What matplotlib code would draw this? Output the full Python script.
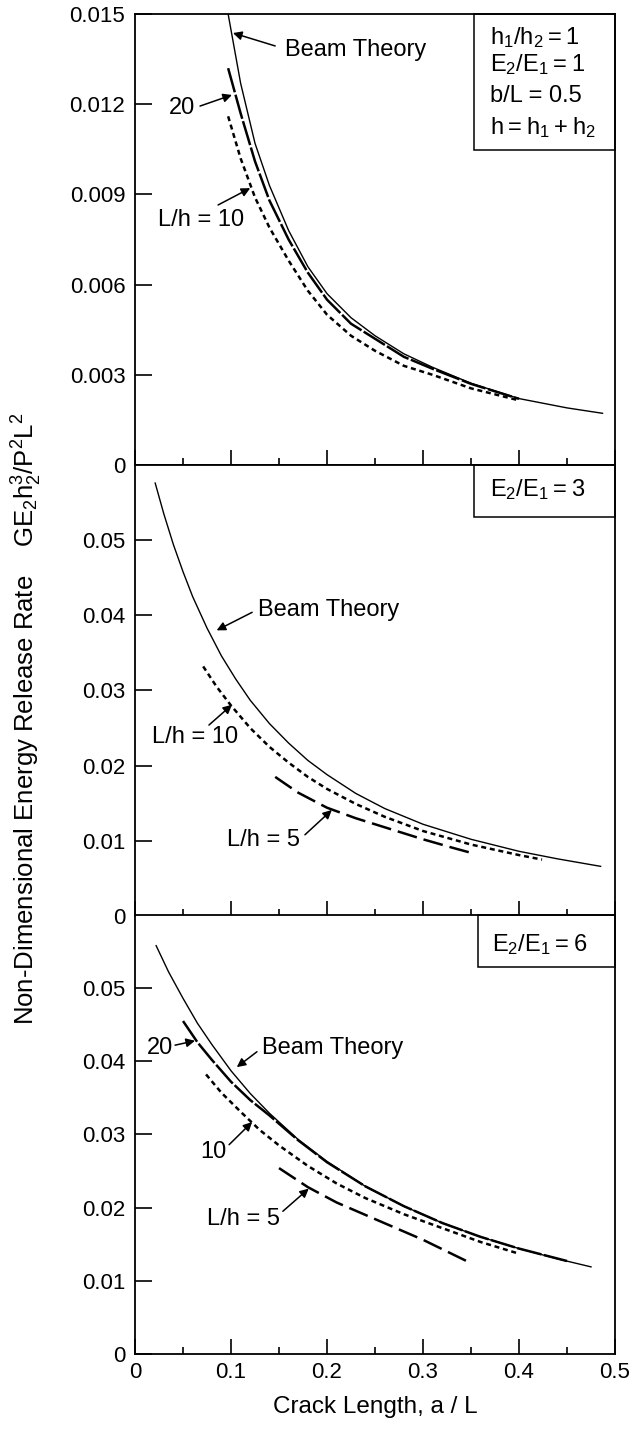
import numpy as np
import matplotlib.pyplot as plt

plt.rcParams['font.family'] = ['Liberation Sans', 'DejaVu Sans']
plt.rcParams['mathtext.fontset'] = 'custom'
plt.rcParams['mathtext.rm'] = 'Liberation Sans'

# =========== E2/E1 = 1 ===========
a_beam_1 = [0.097, 0.11, 0.125, 0.14, 0.16, 0.18, 0.20, 0.225, 0.25, 0.28, 0.31, 0.35, 0.40, 0.45, 0.487]
g_beam_1 = [0.0150, 0.0127, 0.0107, 0.0093, 0.0078, 0.0066, 0.0057, 0.0049, 0.0043, 0.0037, 0.00325, 0.00272, 0.00221, 0.00190, 0.00172]
a_20_1 = [0.097, 0.11, 0.125, 0.14, 0.16, 0.18, 0.20, 0.225, 0.25, 0.28, 0.31, 0.35, 0.40]
g_20_1 = [0.0132, 0.0117, 0.0101, 0.0088, 0.0075, 0.0064, 0.0055, 0.0047, 0.0042, 0.0036, 0.0032, 0.0027, 0.0022]
a_10_1 = [0.097, 0.11, 0.125, 0.14, 0.16, 0.18, 0.20, 0.225, 0.25, 0.28, 0.31, 0.35, 0.40]
g_10_1 = [0.0116, 0.0102, 0.0089, 0.0079, 0.0068, 0.0058, 0.0050, 0.0043, 0.0038, 0.0033, 0.0030, 0.00255, 0.00215]

# =========== E2/E1 = 3 ===========
a_beam_3 = [0.021, 0.03, 0.04, 0.05, 0.06, 0.075, 0.09, 0.105, 0.12, 0.14, 0.16, 0.18, 0.20, 0.23, 0.26, 0.30, 0.35, 0.40, 0.44, 0.485]
g_beam_3 = [0.0576, 0.0535, 0.0494, 0.0458, 0.0425, 0.0383, 0.0346, 0.0315, 0.0287, 0.0256, 0.0230, 0.0207, 0.0188, 0.0163, 0.0143, 0.0122, 0.0102, 0.0086, 0.0076, 0.0066]
a_10_3 = [0.071, 0.085, 0.10, 0.12, 0.14, 0.16, 0.18, 0.20, 0.23, 0.26, 0.30, 0.35, 0.40, 0.424]
g_10_3 = [0.0332, 0.0305, 0.0280, 0.0250, 0.0225, 0.0204, 0.0185, 0.0169, 0.0149, 0.0132, 0.0113, 0.0095, 0.0081, 0.0075]
a_5_3 = [0.146, 0.17, 0.20, 0.23, 0.26, 0.30, 0.33, 0.35]
g_5_3 = [0.0185, 0.0164, 0.0144, 0.0130, 0.0118, 0.0102, 0.0091, 0.0084]

# =========== E2/E1 = 6 ===========
a_beam_6 = [0.022, 0.035, 0.05, 0.065, 0.08, 0.10, 0.12, 0.14, 0.17, 0.20, 0.24, 0.28, 0.32, 0.36, 0.40, 0.44, 0.475]
g_beam_6 = [0.0558, 0.0522, 0.0486, 0.0452, 0.0423, 0.0387, 0.0356, 0.0329, 0.0293, 0.0263, 0.0229, 0.0202, 0.0179, 0.0160, 0.0144, 0.0130, 0.0119]
a_20_6 = [0.05, 0.065, 0.08, 0.10, 0.12, 0.14, 0.17, 0.20, 0.24, 0.28, 0.32, 0.36, 0.40, 0.45]
g_20_6 = [0.0455, 0.0426, 0.0402, 0.0372, 0.0347, 0.0326, 0.0292, 0.0262, 0.0229, 0.0202, 0.0179, 0.0160, 0.0144, 0.0127]
a_10_6 = [0.074, 0.09, 0.11, 0.13, 0.15, 0.18, 0.21, 0.24, 0.28, 0.32, 0.36, 0.40]
g_10_6 = [0.0382, 0.0357, 0.0331, 0.0306, 0.0285, 0.0257, 0.0233, 0.0213, 0.0191, 0.0172, 0.0153, 0.0137]
a_5_6 = [0.15, 0.18, 0.21, 0.24, 0.27, 0.30, 0.35]
g_5_6 = [0.0254, 0.0228, 0.0207, 0.0190, 0.0173, 0.0156, 0.0124]

x_ticks = [0, 0.1, 0.2, 0.3, 0.4, 0.5]
x_tick_labels = ['0', '0.1', '0.2', '0.3', '0.4', '0.5']
y_ticks_1 = [0, 0.003, 0.006, 0.009, 0.012, 0.015]
y_tick_labels_1 = ['0', '0.003', '0.006', '0.009', '0.012', '0.015']
y_ticks_36 = [0, 0.01, 0.02, 0.03, 0.04, 0.05]
y_tick_labels_36 = ['0', '0.01', '0.02', '0.03', '0.04', '0.05']

fs_tick = 16
fs_text = 17
fs_label = 17.5

beam_style = dict(color='k', lw=1.0, ls='-')
s20_style = dict(color='k', lw=1.8, dashes=(10, 1.0))
s10_style = dict(color='k', lw=1.8, dashes=(2.0, 1.5))
s5_style = dict(color='k', lw=1.8, dashes=(8, 2.8))


def arrow(ax, tail, head):
	ax.annotate('', xy=head, xytext=tail,
				arrowprops=dict(arrowstyle='-|>', color='k', lw=1.1,
								shrinkA=0, shrinkB=0, mutation_scale=13))


def setup(ax, ymax, yticks, ylabels, box_h, box_x0):
	ax.set_xlim(0, 0.5)
	ax.set_ylim(0, ymax)
	ax.set_xticks(x_ticks)
	ax.set_xticks(np.arange(0.05, 0.5, 0.1), minor=True)
	ax.set_yticks(yticks)
	ax.set_yticklabels(ylabels)
	ax.tick_params(axis='y', which='major', direction='in', length=12, width=1.2,
				   labelsize=fs_tick, pad=7)
	ax.tick_params(axis='x', which='major', direction='in', length=11, width=1.2,
				   labelsize=fs_tick, pad=6)
	ax.tick_params(axis='x', which='minor', direction='in', length=5, width=1.2)
	for sp in ax.spines.values():
		sp.set_linewidth(1.3)
	rect = plt.Rectangle((box_x0, 1 - box_h), 1 - box_x0, box_h, transform=ax.transAxes,
						 fill=False, lw=1.1, ec='k', clip_on=False)
	ax.add_patch(rect)


fig = plt.figure(figsize=(6.36, 14.37), dpi=100)
ax1 = fig.add_axes([0.2123, 0.6764, 0.7547, 0.3138])
ax2 = fig.add_axes([0.2123, 0.3626, 0.7547, 0.3138])
ax3 = fig.add_axes([0.2123, 0.0578, 0.7547, 0.3055])

# top panel
ax1.plot(a_beam_1, g_beam_1, **beam_style)
ax1.plot(a_20_1, g_20_1, **s20_style)
ax1.plot(a_10_1, g_10_1, **s10_style)
setup(ax1, 0.015, y_ticks_1, y_tick_labels_1, 0.3016, 0.706)
ax1.set_xticklabels([])
ax1.text(0.156, 0.0138, 'Beam Theory', fontsize=fs_text, va='center')
arrow(ax1, (0.146, 0.01394), (0.102, 0.01437))
ax1.text(0.049, 0.01187, '20', fontsize=fs_text, va='center', ha='center')
arrow(ax1, (0.0677, 0.01194), (0.101, 0.01231))
ax1.text(0.024, 0.00815, 'L/h = 10', fontsize=fs_text, va='center')
arrow(ax1, (0.0865, 0.00865), (0.120, 0.00921))
ax1.text(0.740, 0.949, r'$\mathregular{h_1/h_2 = 1}$', transform=ax1.transAxes, fontsize=fs_text, va='center')
ax1.text(0.740, 0.887, r'$\mathregular{E_2/E_1 = 1}$', transform=ax1.transAxes, fontsize=fs_text, va='center')
ax1.text(0.740, 0.818, 'b/L = 0.5', transform=ax1.transAxes, fontsize=fs_text, va='center')
ax1.text(0.740, 0.749, r'$\mathregular{h = h_1 + h_2}$', transform=ax1.transAxes, fontsize=fs_text, va='center')

# middle panel
ax2.plot(a_beam_3, g_beam_3, **beam_style)
ax2.plot(a_10_3, g_10_3, **s10_style)
ax2.plot(a_5_3, g_5_3, **s5_style)
setup(ax2, 0.06, y_ticks_36, y_tick_labels_36, 0.115, 0.706)
ax2.set_xticklabels([])
ax2.text(0.128, 0.0407, 'Beam Theory', fontsize=fs_text, va='center')
arrow(ax2, (0.122, 0.0404), (0.085, 0.0380))
ax2.text(0.018, 0.0238, 'L/h = 10', fontsize=fs_text, va='center')
arrow(ax2, (0.077, 0.0254), (0.101, 0.0281))
ax2.text(0.096, 0.0101, 'L/h = 5', fontsize=fs_text, va='center')
arrow(ax2, (0.177, 0.0108), (0.205, 0.0141))
ax2.text(0.740, 0.945, r'$\mathregular{E_2/E_1 = 3}$', transform=ax2.transAxes, fontsize=fs_text, va='center')

# bottom panel
ax3.plot(a_beam_6, g_beam_6, **beam_style)
ax3.plot(a_20_6, g_20_6, **s20_style)
ax3.plot(a_10_6, g_10_6, **s10_style)
ax3.plot(a_5_6, g_5_6, **s5_style)
setup(ax3, 0.06, y_ticks_36, y_tick_labels_36, 0.118, 0.715)
ax3.set_xticklabels(x_tick_labels)
ax3.text(0.0125, 0.0418, '20', fontsize=fs_text, va='center')
arrow(ax3, (0.0417, 0.0422), (0.0625, 0.0428))
ax3.text(0.132, 0.0418, 'Beam Theory', fontsize=fs_text, va='center')
arrow(ax3, (0.127, 0.0413), (0.106, 0.0392))
ax3.text(0.068, 0.0276, '10', fontsize=fs_text, va='center')
arrow(ax3, (0.098, 0.0286), (0.122, 0.0317))
ax3.text(0.075, 0.0185, 'L/h = 5', fontsize=fs_text, va='center')
arrow(ax3, (0.154, 0.0195), (0.181, 0.0226))
ax3.text(0.744, 0.932, r'$\mathregular{E_2/E_1 = 6}$', transform=ax3.transAxes, fontsize=fs_text, va='center')

fig.text(0.5896, 0.0209, 'Crack Length, a / L', fontsize=fs_label, ha='center', va='center')
fig.text(0.043, 0.5, r'Non-Dimensional Energy Release Rate    $\mathregular{GE_2h_2^3/P^2L^2}$',
		 rotation=90, fontsize=18.5, ha='center', va='center')

fig.savefig('out.png', dpi=100)
